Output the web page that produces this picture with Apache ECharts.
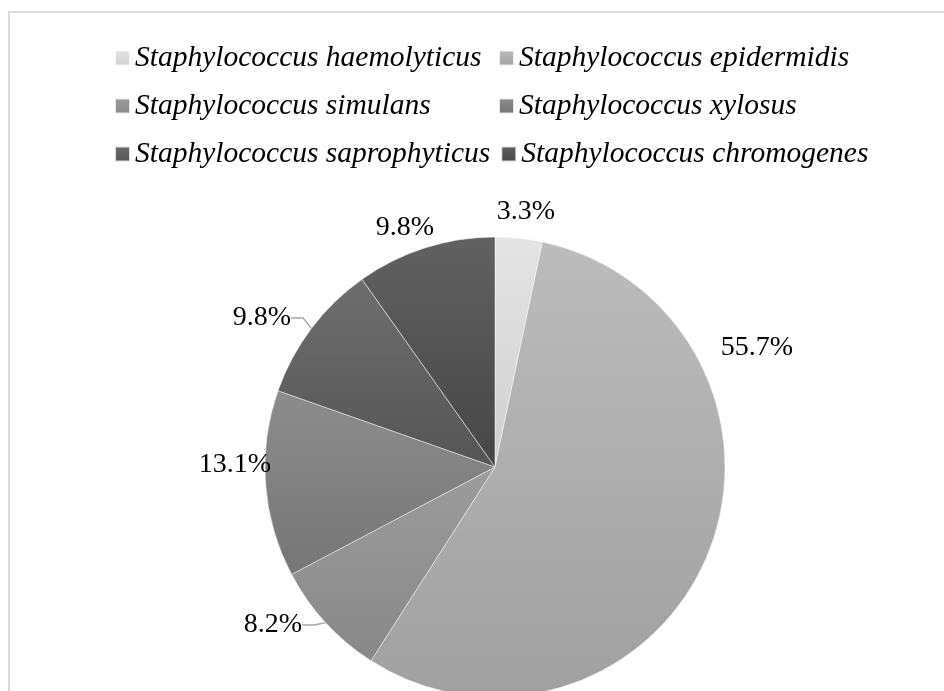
<!DOCTYPE html>
<html><head><meta charset="utf-8">
<script src="https://cdn.jsdelivr.net/npm/echarts@6/dist/echarts.min.js"></script>
<style>html,body{margin:0;padding:0;background:#fff}#c{width:944px;height:691px}</style>
</head><body><div id="c"></div>
<script>
const categories = ['Staphylococcus haemolyticus','Staphylococcus epidermidis','Staphylococcus simulans','Staphylococcus xylosus','Staphylococcus saprophyticus','Staphylococcus chromogenes'];
const percents = [3.3, 55.7, 8.2, 13.1, 9.8, 9.8];
const topColors = ['#e4e4e4','#bcbcbc','#9c9c9c','#8c8c8c','#6e6e6e','#616161'];
const bottomColors = ['#d0d0d0','#a0a0a0','#888888','#767676','#555555','#464646'];
const labelPositions = [[526,212],[757,348],[273,625],[235,465],[262,318],[405,228]];
const leaderLines = [false,false,true,false,true,false];

const chart = echarts.init(document.getElementById('c'), null, {renderer:'canvas'});
const data = categories.map((name,i)=>({
  name, value: percents[i],
  itemStyle:{color:{type:'linear',x:0,y:0,x2:0,y2:1,colorStops:[{offset:0,color:topColors[i]},{offset:1,color:bottomColors[i]}]}},
  labelLine:{show:leaderLines[i], length:8, length2:12, lineStyle:{color:'#a6a6a6',width:1.3}}
}));
chart.setOption({
  animation:false,
  backgroundColor:'#fff',
  graphic:[{type:'rect',silent:true,z:-1,shape:{x:9,y:12,width:1200,height:900},style:{fill:'none',stroke:'#d9d9d9',lineWidth:2}}],
  legend:{
    left:109, top:34, width:800, orient:'horizontal',
    itemWidth:15, itemHeight:15, itemGap:10, icon:'rect',
    selectedMode:false,
    textStyle:{fontFamily:'Liberation Serif',fontStyle:'italic',fontSize:29.5,color:'#000',width:353,lineHeight:38},
    data:categories
  },
  series:[{
    type:'pie', center:[495,467], radius:230, startAngle:90, clockwise:true,
    avoidLabelOverlap:false, silent:true,
    itemStyle:{borderColor:'rgba(255,255,255,0.8)',borderWidth:0.6},
    label:{show:true,position:'outside',formatter:p=>p.value.toFixed(1)+'%',fontFamily:'Liberation Serif',fontSize:28,color:'#000'},
    labelLine:{show:false},
    labelLayout:function(params){const p=labelPositions[params.dataIndex];return {x:p[0],y:p[1],align:'center',verticalAlign:'middle'};},
    emphasis:{disabled:true},
    data
  }]
});
</script></body></html>
